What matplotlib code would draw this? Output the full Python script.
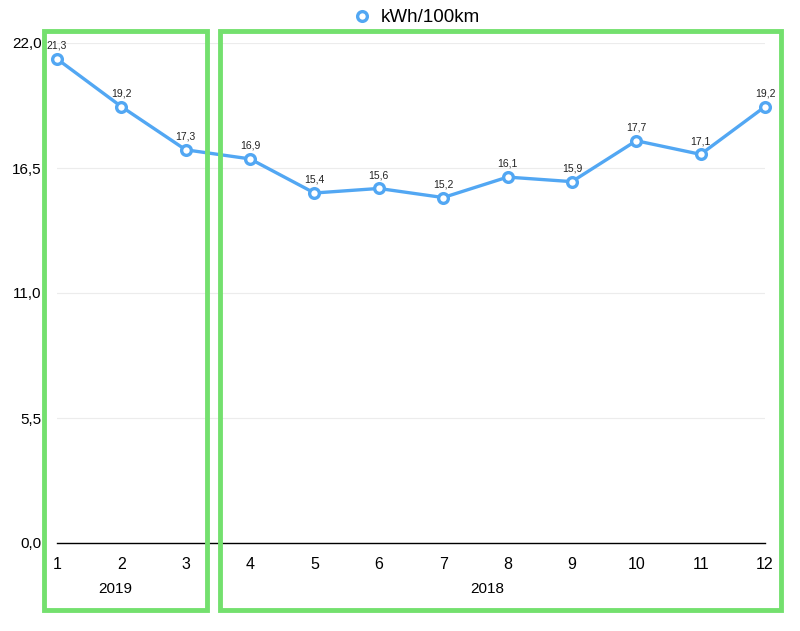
import matplotlib
matplotlib.use("Agg")
import matplotlib.pyplot as plt
from matplotlib.patches import Rectangle
from matplotlib.lines import Line2D

plt.rcParams["font.family"] = ["Liberation Sans", "DejaVu Sans"]

months = [1, 2, 3, 4, 5, 6, 7, 8, 9, 10, 11, 12]
kwh = [21.3, 19.2, 17.3, 16.9, 15.4, 15.6, 15.2, 16.1, 15.9, 17.7, 17.1, 19.2]
y_ticks = [0.0, 5.5, 11.0, 16.5, 22.0]
years = ["2019", "2018"]
year_pos = [1.9, 7.68]

BLUE = "#52a7f3"
GREEN = "#74e06e"


def fmt(v):
    return f"{v:.1f}".replace(".", ",")


fig = plt.figure(figsize=(8, 6.31), dpi=100)
ax = fig.add_axes([57 / 800, 88 / 631, 708 / 800, 500 / 631])

ax.plot(months, kwh, color=BLUE, lw=2.4, marker="o", ms=7,
        mfc="white", mec=BLUE, mew=2.4, zorder=3, clip_on=False)
for m, v in zip(months, kwh):
    ax.annotate(fmt(v), (m, v), xytext=(0, 6), textcoords="offset points",
                ha="center", va="bottom", fontsize=7.5, color="#222222")

ax.set_xlim(1, 12)
ax.set_ylim(0, 22)
ax.set_yticks(y_ticks)
ax.set_yticklabels([fmt(t) for t in y_ticks], fontsize=11)
ax.set_xticks(months)
ax.set_xticklabels([str(m) for m in months], fontsize=11.5)
ax.tick_params(axis="x", length=0, pad=10)
ax.tick_params(axis="y", length=0, pad=11)
ax.grid(axis="y", color="#ececec", lw=0.8)
ax.set_axisbelow(True)
for s in ["top", "right", "left"]:
    ax.spines[s].set_visible(False)
ax.spines["bottom"].set_color("black")
ax.spines["bottom"].set_linewidth(1.0)

for lab, pos in zip(years, year_pos):
    ax.text(pos, -0.092, lab, transform=ax.get_xaxis_transform(),
            ha="center", va="center", fontsize=11)

handle = Line2D([], [], ls="none", marker="o", ms=7, mfc="white",
                mec=BLUE, mew=2.4)
fig.legend([handle], ["kWh/100km"], loc="upper center",
           bbox_to_anchor=(0.52, 1.012), frameon=False, fontsize=13.5,
           handlelength=1.0, handletextpad=0.5)

# highlight boxes
for x0, x1 in [(44, 207), (220, 781)]:
    fig.patches.append(Rectangle((x0 / 800, 21 / 631), (x1 - x0) / 800,
                                 579 / 631, transform=fig.transFigure,
                                 fill=False, ec=GREEN, lw=3.5, zorder=5))

fig.savefig("out.png", dpi=100)
